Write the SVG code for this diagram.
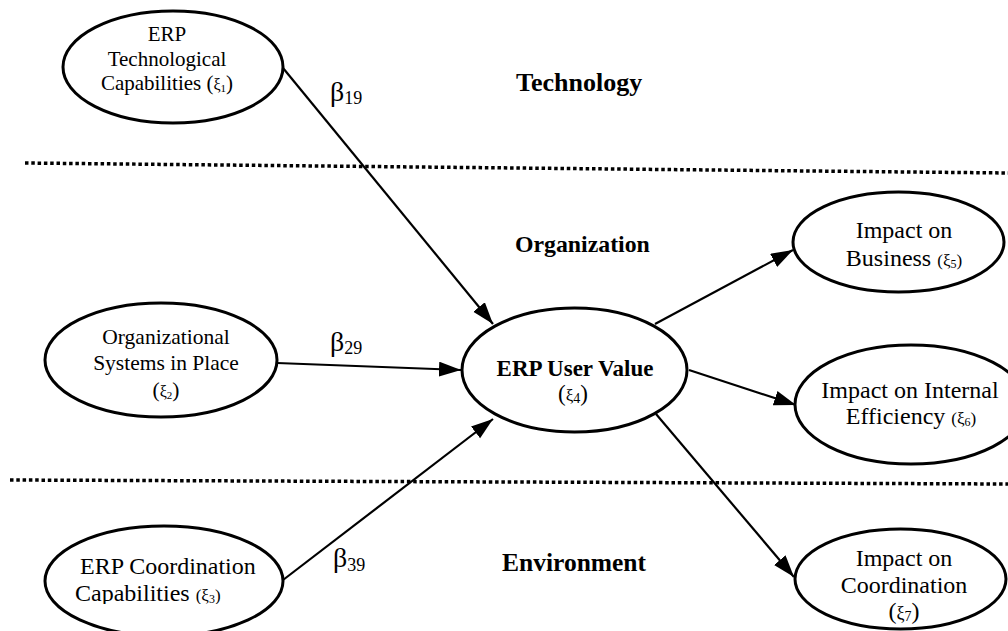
<svg xmlns="http://www.w3.org/2000/svg" width="1008" height="631" viewBox="0 0 1008 631">
<style>
.node ellipse{fill:#fff;stroke:#000;stroke-width:3}
text{font-family:"Liberation Serif","Times New Roman",serif;fill:#000}
.t21{font-size:21px;text-anchor:middle}
.t215{font-size:21.5px;text-anchor:middle}
.t24{font-size:24px;text-anchor:middle}
.t24s{font-size:24px}
.bold{font-weight:bold}
.sec{font-weight:bold}
.conn line{stroke:#000;stroke-width:2.2;marker-end:url(#ah)}
.dots{stroke:#000;stroke-width:3.5;stroke-dasharray:3.5 2.8;fill:none}
.beta{font-size:28px}
.bsub{font-size:18px}
</style>
<defs>
<marker id="ah" markerUnits="userSpaceOnUse" markerWidth="24" markerHeight="16" refX="22" refY="7.5" orient="auto">
<path d="M0,0 L22,7.5 L0,15 Z" fill="#000"/>
</marker>
<clipPath id="clip3"><rect x="0" y="0" width="400" height="604"/></clipPath>
</defs>

<g id="dividers">
<line class="dots" x1="25" y1="163" x2="1008" y2="173"/>
<line class="dots" x1="10" y1="480" x2="1008" y2="484"/>
</g>

<g id="section-labels">
<text class="sec" x="516" y="91" font-size="26">Technology</text>
<text class="sec" x="515" y="252" font-size="23.8">Organization</text>
<text class="sec" x="502" y="571" font-size="25.5">Environment</text>
</g>

<g id="connectors" class="conn">
<line x1="283" y1="68" x2="493" y2="324"/>
<line x1="277" y1="363" x2="461" y2="370"/>
<line x1="283" y1="580" x2="493" y2="419"/>
<line x1="655" y1="324" x2="793" y2="250"/>
<line x1="689" y1="370" x2="796" y2="405"/>
<line x1="656" y1="414" x2="794" y2="577"/>
</g>

<g id="connector-labels">
<text x="330" y="101"><tspan class="beta">β</tspan><tspan class="bsub" dy="3">19</tspan></text>
<text x="330" y="351"><tspan class="beta">β</tspan><tspan class="bsub" dy="3">29</tspan></text>
<text x="333" y="567"><tspan class="beta">β</tspan><tspan class="bsub" dy="4">39</tspan></text>
</g>

<g id="node-tech" class="node">
<ellipse cx="173" cy="67" rx="110" ry="56"/>
<text class="t21" x="167" y="41">ERP</text>
<text class="t21" x="167" y="66">Technological</text>
<text class="t21" x="167" y="90">Capabilities (<tspan font-size="16">ξ</tspan><tspan font-size="11" dy="2">1</tspan><tspan dy="-2">)</tspan></text>
</g>

<g id="node-org" class="node">
<ellipse cx="161" cy="360" rx="116" ry="57"/>
<text class="t215" x="166" y="344">Organizational</text>
<text class="t215" x="166" y="370">Systems in Place</text>
<text class="t215" x="166" y="397">(<tspan font-size="16">ξ</tspan><tspan font-size="11" dy="2">2</tspan><tspan dy="-2">)</tspan></text>
</g>

<g id="node-coord-cap" class="node">
<ellipse cx="164" cy="581" rx="119" ry="55"/>
<text class="t24s" x="80" y="574">ERP Coordination</text>
<text class="t24s" x="75" y="601" clip-path="url(#clip3)">Capabilities <tspan font-size="17">(ξ</tspan><tspan font-size="12" dy="2">3</tspan><tspan font-size="17" dy="-2">)</tspan></text>
</g>

<g id="node-user-value" class="node">
<ellipse cx="574.5" cy="370" rx="112.5" ry="62"/>
<text class="bold" x="575" y="376" font-size="23" text-anchor="middle">ERP User Value</text>
<text x="573" y="401" font-size="23" text-anchor="middle">(<tspan font-size="17">ξ</tspan><tspan font-size="14" dy="2">4</tspan><tspan dy="-2">)</tspan></text>
</g>

<g id="node-business" class="node">
<ellipse cx="898.5" cy="242" rx="105.5" ry="50"/>
<text class="t24" x="904" y="238">Impact on</text>
<text class="t24" x="904" y="266">Business <tspan font-size="17">(ξ</tspan><tspan font-size="12" dy="2">5</tspan><tspan font-size="17" dy="-2">)</tspan></text>
</g>

<g id="node-efficiency" class="node">
<ellipse cx="911" cy="404.5" rx="116" ry="59.5"/>
<text class="t24" x="910" y="398">Impact on Internal</text>
<text class="t24" x="911" y="424">Efficiency <tspan font-size="17">(ξ</tspan><tspan font-size="12" dy="2">6</tspan><tspan font-size="17" dy="-2">)</tspan></text>
</g>

<g id="node-coordination" class="node">
<ellipse cx="900.5" cy="579" rx="105.5" ry="50"/>
<text class="t24" x="904" y="566">Impact on</text>
<text class="t24" x="904" y="593">Coordination</text>
<text class="t24" x="904" y="619">(<tspan font-size="18">ξ</tspan><tspan font-size="14" dy="2">7</tspan><tspan dy="-2">)</tspan></text>
</g>
</svg>
